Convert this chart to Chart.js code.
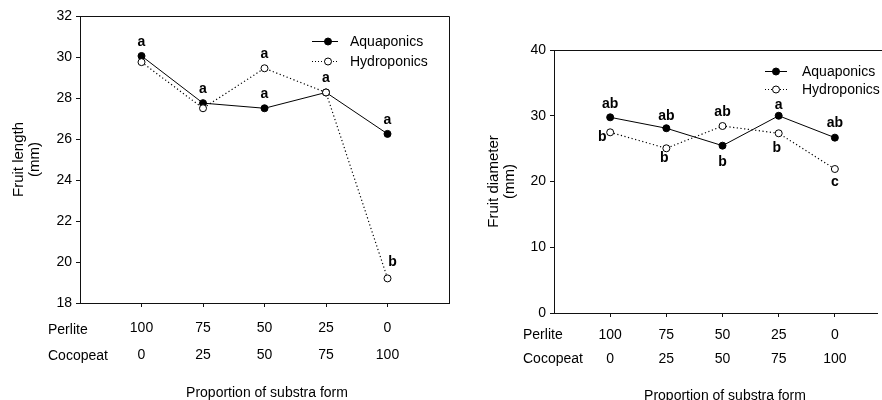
<!DOCTYPE html>
<html>
<head>
<meta charset="utf-8">
<script src="https://cdn.jsdelivr.net/npm/chart.js@4"></script>
<style>
html, body { margin: 0; padding: 0; background: #fff; }
#wrap { position: relative; width: 882px; height: 400px; overflow: hidden; }
.box { position: absolute; top: 0; }
</style>
</head>
<body>
<div id="wrap">
  <canvas id="length-chart" class="box" style="left:0" width="460" height="400"></canvas>
  <canvas id="diameter-chart" class="box" style="left:441px" width="441" height="400"></canvas>
</div>
<script>
// Treatments (x positions 1..5) and their substrate mix labels
const treatments = [1, 2, 3, 4, 5];
const perliteLabels = ['100', '75', '50', '25', '0'];
const cocopeatLabels = ['0', '25', '50', '75', '100'];

// Fruit length (mm)
const lengthAqua = [30.05, 27.75, 27.5, 28.27, 26.25];
const lengthHydro = [29.75, 27.5, 29.45, 28.27, 19.2];
const lengthAquaLetters = ['a', 'a', 'a', 'a', 'a'];
const lengthHydroLetters = ['', '', 'a', '', 'b'];

// Fruit diameter (mm)
const diamAqua = [29.76, 28.1, 25.45, 30.0, 26.67];
const diamHydro = [27.48, 25.05, 28.44, 27.33, 21.9];
const diamAquaLetters = ['ab', 'ab', 'b', 'a', 'ab'];
const diamHydroLetters = ['b', 'b', 'ab', 'b', 'c'];

const FONT = "'Liberation Sans', Arial, sans-serif";

function pts(values) {
    return treatments.map((t, i) => ({ x: t, y: values[i] }));
}

// Draws frame, legend, letters, row labels and titles
function extras(opts) {
    return {
        id: 'extras',
        afterDraw(chart) {
            const ctx = chart.ctx;
            const a = chart.chartArea;
            const xs = chart.scales.x;
            const ys = chart.scales.y;
            ctx.save();

            // frame
            ctx.strokeStyle = '#111';
            ctx.lineWidth = 1;
            ctx.beginPath();
            const top = Math.round(a.top) + 0.5;
            ctx.moveTo(a.left, top);
            ctx.lineTo(opts.frameRight ? a.right + 0.5 : chart.width, top);
            if (opts.frameRight) {
                const r = Math.round(a.right) + 0.5;
                ctx.moveTo(r, top);
                ctx.lineTo(r, Math.round(a.bottom) + 0.5);
            }
            ctx.stroke();

            // significance letters
            ctx.font = 'bold 14px ' + FONT;
            ctx.fillStyle = '#000';
            ctx.textAlign = 'center';
            ctx.textBaseline = 'middle';
            opts.letters.forEach(set => {
                set.text.forEach((txt, i) => {
                    if (!txt) return;
                    const px = xs.getPixelForValue(treatments[i]) + set.off[i][0];
                    const py = ys.getPixelForValue(set.values[i]) + set.off[i][1];
                    ctx.fillText(txt, px, py);
                });
            });

            // legend
            const lg = opts.legend;
            ctx.font = '14px ' + FONT;
            ctx.textAlign = 'left';
            [
                { label: 'Aquaponics', dash: [], fill: '#000', y: lg.y[0] },
                { label: 'Hydroponics', dash: [1, 2], fill: '#fff', y: lg.y[1] }
            ].forEach(e => {
                ctx.beginPath();
                ctx.setLineDash(e.dash);
                ctx.strokeStyle = '#000';
                ctx.moveTo(lg.x0, e.y + 0.5);
                ctx.lineTo(lg.x1, e.y + 0.5);
                ctx.stroke();
                ctx.setLineDash([]);
                ctx.beginPath();
                ctx.arc(lg.mx, e.y + 0.5, 3.5, 0, Math.PI * 2);
                ctx.fillStyle = e.fill;
                ctx.fill();
                ctx.stroke();
                ctx.fillStyle = '#000';
                ctx.fillText(e.label, lg.tx, e.y + 1);
            });

            // row labels under the x axis
            ctx.fillText('Perlite', opts.rowX, opts.rowY[0]);
            ctx.fillText('Cocopeat', opts.rowX, opts.rowY[1]);

            // x title
            ctx.textAlign = 'center';
            ctx.fillText('Proportion of substra form', opts.xTitle[0], opts.xTitle[1]);

            // y title (two lines, rotated)
            ctx.font = '15px ' + FONT;
            const cy = (a.top + a.bottom) / 2;
            opts.yTitle.text.forEach((t, i) => {
                ctx.save();
                ctx.translate(opts.yTitle.x[i], cy);
                ctx.rotate(-Math.PI / 2);
                ctx.fillText(t, 0, 0);
                ctx.restore();
            });
            ctx.restore();
        }
    };
}

function makeChart(id, cfg) {
    return new Chart(document.getElementById(id), {
        type: 'line',
        data: {
            datasets: [
                {
                    label: 'Aquaponics',
                    data: pts(cfg.aqua),
                    borderColor: '#000',
                    borderWidth: 1,
                    pointRadius: 3.5,
                    pointBackgroundColor: '#000',
                    pointBorderColor: '#000',
                    pointBorderWidth: 1,
                    order: 1
                },
                {
                    label: 'Hydroponics',
                    data: pts(cfg.hydro),
                    borderColor: '#000',
                    borderWidth: 1.2,
                    borderDash: [1.2, 2.5],
                    pointRadius: 3.5,
                    pointBackgroundColor: '#fff',
                    pointBorderColor: '#000',
                    pointBorderWidth: 1,
                    order: 0
                }
            ]
        },
        options: {
            responsive: false,
            animation: false,
            layout: { padding: { top: cfg.padTop, right: cfg.padRight, left: 0, bottom: 0 } },
            plugins: { legend: { display: false }, tooltip: { enabled: false } },
            scales: {
                x: {
                    type: 'linear',
                    min: 0,
                    max: cfg.xMax,
                    afterBuildTicks: axis => {
                        axis.ticks = treatments.map(v => ({ value: v }));
                    },
                    afterFit: axis => { axis.height = cfg.xHeight; },
                    ticks: {
                        color: '#000',
                        font: { family: FONT, size: 14, lineHeight: cfg.lineH + 'px' },
                        padding: cfg.xPad,
                        maxRotation: 0,
                        callback: (v) => {
                            const i = treatments.indexOf(v);
                            return i < 0 ? '' : [perliteLabels[i], cocopeatLabels[i]];
                        }
                    },
                    grid: { drawOnChartArea: false, tickLength: 4, color: '#111' },
                    border: { color: '#111', width: 1 }
                },
                y: {
                    min: cfg.yMin,
                    max: cfg.yMax,
                    afterFit: axis => { axis.width = cfg.yWidth; },
                    ticks: {
                        stepSize: cfg.yStep,
                        color: '#000',
                        padding: 4,
                        font: { family: FONT, size: 14 }
                    },
                    grid: { drawOnChartArea: false, tickLength: 4, color: '#111' },
                    border: { color: '#111', width: 1 }
                }
            }
        },
        plugins: [extras(cfg.extras)]
    });
}

makeChart('length-chart', {
    aqua: lengthAqua, hydro: lengthHydro,
    yMin: 18, yMax: 32, yStep: 2, xMax: 6,
    padTop: 16, padRight: 11, yWidth: 80, xHeight: 97,
    xPad: 8, lineH: 27,
    extras: {
        frameRight: true,
        letters: [
            { text: lengthAquaLetters, values: lengthAqua,
              off: [[0, -14], [0, -14], [0, -14], [0, -14], [0, -14]] },
            { text: lengthHydroLetters, values: lengthHydro,
              off: [[0, 0], [0, 0], [0, -14], [0, 0], [5, -16]] }
        ],
        legend: { x0: 312, x1: 338, mx: 328, tx: 350, y: [41, 61] },
        rowX: 48, rowY: [330, 356],
        xTitle: [267, 393],
        yTitle: { text: ['Fruit length', '(mm)'], x: [19, 35] }
    }
});

makeChart('diameter-chart', {
    aqua: diamAqua, hydro: diamHydro,
    yMin: 0, yMax: 40, yStep: 10, xMax: 5.75,
    padTop: 50, padRight: 0, yWidth: 113, xHeight: 87,
    xPad: 6, lineH: 24,
    extras: {
        frameRight: false,
        letters: [
            { text: diamAquaLetters, values: diamAqua,
              off: [[0, -13], [0, -12], [0, 16], [0, -11], [0, -15]] },
            { text: diamHydroLetters, values: diamHydro,
              off: [[-8, 5], [-2, 10], [0, -14], [-2, 15], [0, 13]] }
        ],
        legend: { x0: 324, x1: 346, mx: 335, tx: 361, y: [71, 89] },
        rowX: 82, rowY: [335, 359],
        xTitle: [284, 396],
        yTitle: { text: ['Fruit diameter', '(mm)'], x: [53, 69] }
    }
});
</script>
</body>
</html>
